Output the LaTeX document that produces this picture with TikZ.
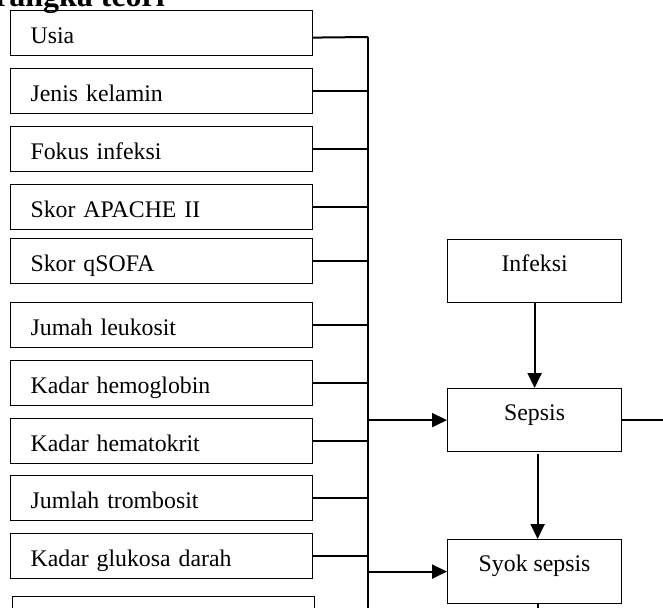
\documentclass[tikz,border=0pt]{standalone}
\usepackage{fontspec}
\setmainfont{Liberation Serif}
\usetikzlibrary{arrows.meta}
\begin{document}
\begin{tikzpicture}[x=1pt,y=-1pt,
  lbox/.style={draw, line width=1.2pt, minimum width=302pt, minimum height=45pt,
    text width=262pt, inner xsep=20pt, inner ysep=0pt, align=left,
    text height=22pt, text depth=1pt, font=\fontsize{23.8}{28}\selectfont, anchor=north west},
  rbox/.style={draw, line width=1.2pt, minimum width=174pt, minimum height=63pt,
    inner sep=0pt, text height=10pt, text depth=10pt,
    font=\fontsize{23.8}{28}\selectfont, anchor=north west},
  conn/.style={line width=2pt},
  arr/.style={conn, -{Triangle[length=15pt,width=14pt]}},
  ttl/.style={font=\bfseries\fontsize{32}{38}\selectfont, inner sep=0pt, anchor=base east}]
\useasboundingbox (0,0) rectangle (663,607);
\clip (0,0) rectangle (663,607);

% title (cut off by the page edge)
\node[ttl] (title) at (165,7) {Kerangka teori};

% left boxes
\node[lbox] (usia) at (10,10)  {Usia};
\node[lbox] (jk)   at (10,68)  {Jenis kelamin};
\node[lbox] (fi)   at (10,126) {Fokus infeksi};
\node[lbox] (apa)  at (10,184) {Skor APACHE II};
\node[lbox] (qs)   at (10,238) {Skor qSOFA};
\node[lbox] (leu)  at (10,302) {Jumah leukosit};
\node[lbox] (hb)   at (10,360) {Kadar hemoglobin};
\node[lbox] (ht)   at (10,418) {Kadar hematokrit};
\node[lbox] (tr)   at (10,475) {Jumlah trombosit};
\node[lbox] (gl)   at (10,533) {Kadar glukosa darah};
\node[lbox, minimum width=301pt] (last) at (12,596) {};

% right boxes
\node[rbox] (inf)  at (447,239) {Infeksi};
\node[rbox] (sep)  at (447,388) {Sepsis};
\node[rbox, minimum height=64pt] (syok) at (447,539) {Syok sepsis};

% bus
\coordinate (bustop) at (368,37);
\coordinate (busbot) at (368,640);
\coordinate (sepout) at (663,420);
\draw[conn] (bustop) -- (busbot);

\draw[conn] ([yshift=-4.5pt]usia.east) -- (bustop);
\foreach \n in {jk,fi,apa,qs,leu,hb,ht,tr,gl,last}
  \draw[conn] (\n.east) -- (\n.east -| bustop);

\draw[arr] (sep.west -| bustop) -- (sep.west);
\draw[arr] (syok.west -| bustop) -- (syok.west);

\draw[arr] (inf.south) -- (sep.north);
\draw[arr] ([xshift=3pt,yshift=-2pt]sep.south) -- ([xshift=3pt]syok.north);
\draw[conn] (sep.east) -- (sep.east -| sepout);
\draw[conn] ([xshift=3pt]syok.south) -- ++(0,20);
\end{tikzpicture}
\end{document}
